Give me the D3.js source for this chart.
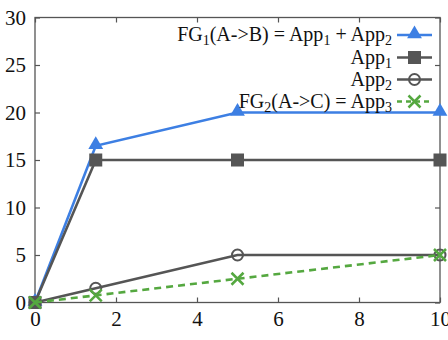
<!DOCTYPE html>
<html>
<head>
<meta charset="utf-8">
<style>
body { margin: 0; background: #fff; }
text { font-family: "Liberation Serif", "DejaVu Serif", serif; fill: #111; }
.axis path { display: none; }
.axis line { stroke: #555; stroke-width: 1.2px; }
</style>
<script src="https://d3js.org/d3.v7.min.js"></script>
</head>
<body>
<script>
// data
var xs = [0, 1.5, 5, 10];
var fg1 = [0, 16.5, 20, 20];
var app1 = [0, 15, 15, 15];
var app2 = [0, 1.5, 5, 5];
var fg2 = [0, 0.75, 2.5, 5];
var xTicks = [0, 2, 4, 6, 8, 10];
var yTicks = [0, 5, 10, 15, 20, 25, 30];

var W = 448, H = 340;
var x = d3.scaleLinear().domain([0, 10]).range([35, 440]);
var y = d3.scaleLinear().domain([0, 30]).range([302.5, 17.5]);

var svg = d3.select("body").append("svg")
    .attr("width", W).attr("height", H);

var serif = "Liberation Serif";

// ticks (inward, mirrored)
svg.append("g").attr("class", "axis")
    .attr("transform", "translate(0," + y(0) + ")")
    .call(d3.axisBottom(x).tickValues(xTicks).tickSizeInner(-5).tickSizeOuter(0).tickPadding(8))
    .attr("font-family", serif).attr("font-size", 21)
    .selectAll("text").attr("dy", "0.75em");
svg.append("g").attr("class", "axis")
    .attr("transform", "translate(0," + y(30) + ")")
    .call(d3.axisTop(x).tickValues(xTicks).tickSizeInner(-5).tickSizeOuter(0).tickFormat(""));
svg.append("g").attr("class", "axis")
    .attr("transform", "translate(" + x(0) + ",0)")
    .call(d3.axisLeft(y).tickValues(yTicks).tickSizeInner(-5).tickSizeOuter(0).tickPadding(9))
    .attr("font-family", serif).attr("font-size", 21);
svg.append("g").attr("class", "axis")
    .attr("transform", "translate(" + x(10) + ",0)")
    .call(d3.axisRight(y).tickValues(yTicks).tickSizeInner(-5).tickSizeOuter(0).tickFormat(""));

// frame
svg.append("rect")
    .attr("x", x(0)).attr("y", y(30))
    .attr("width", x(10) - x(0)).attr("height", y(0) - y(30))
    .attr("fill", "none").attr("stroke", "#555").attr("stroke-width", 1.3);

var blue = "#3d7fe3", grey = "#555555", green = "#55a840";

var series = [
    {vals: fg1, color: blue, dash: null, mark: "tri"},
    {vals: app1, color: grey, dash: null, mark: "sq"},
    {vals: app2, color: grey, dash: null, mark: "circ"},
    {vals: fg2, color: green, dash: "7,5", mark: "x"}
];

function drawMark(g, m, cx, cy, color) {
    if (m === "tri") {
        g.append("path").attr("d", d3.symbol(d3.symbolTriangle, 95)())
            .attr("transform", "translate(" + cx + "," + (cy - 1) + ")").attr("fill", color);
    } else if (m === "sq") {
        g.append("rect").attr("x", cx - 6.5).attr("y", cy - 6.5).attr("width", 13).attr("height", 13)
            .attr("fill", color);
    } else if (m === "circ") {
        g.append("circle").attr("cx", cx).attr("cy", cy).attr("r", 5.5)
            .attr("fill", "none").attr("stroke", color).attr("stroke-width", 2);
    } else {
        g.append("path").attr("d", "M-6,-6L6,6M-6,6L6,-6")
            .attr("transform", "translate(" + cx + "," + cy + ")")
            .attr("stroke", color).attr("stroke-width", 2.5).attr("fill", "none");
    }
}

var line = d3.line().x(function(d, i) { return x(xs[i]); }).y(function(d) { return y(d); });

series.forEach(function(s) {
    var g = svg.append("g");
    g.append("path").datum(s.vals).attr("d", line)
        .attr("fill", "none").attr("stroke", s.color).attr("stroke-width", 2.6)
        .attr("stroke-dasharray", s.dash);
    s.vals.forEach(function(v, i) { drawMark(g, s.mark, x(xs[i]), y(v), s.color); });
});

// legend
var legendRows = [
    [["FG", 0], ["1", 1], ["(A->B) = App", 0], ["1", 1], [" + App", 0], ["2", 1]],
    [["App", 0], ["1", 1]],
    [["App", 0], ["2", 1]],
    [["FG", 0], ["2", 1], ["(A->C) = App", 0], ["3", 1]]
];
var legY = [35, 57.5, 79.5, 101.5];
legendRows.forEach(function(parts, r) {
    var s = series[r];
    var t = svg.append("text").attr("x", 392).attr("y", legY[r] + 6)
        .attr("text-anchor", "end").style("font-size", "20px");
    parts.forEach(function(p, i) {
        var sp = t.append("tspan").text(p[0]);
        if (p[1]) sp.style("font-size", "14px").attr("dy", 4);
        else if (i > 0) sp.attr("dy", -4);
    });
    var g = svg.append("g");
    g.append("line").attr("x1", 397).attr("x2", 432).attr("y1", legY[r]).attr("y2", legY[r])
        .attr("stroke", s.color).attr("stroke-width", 2.6).attr("stroke-dasharray", s.dash ? "5,4" : null);
    drawMark(g, s.mark, 414.5, legY[r], s.color);
});
</script>
</body>
</html>
